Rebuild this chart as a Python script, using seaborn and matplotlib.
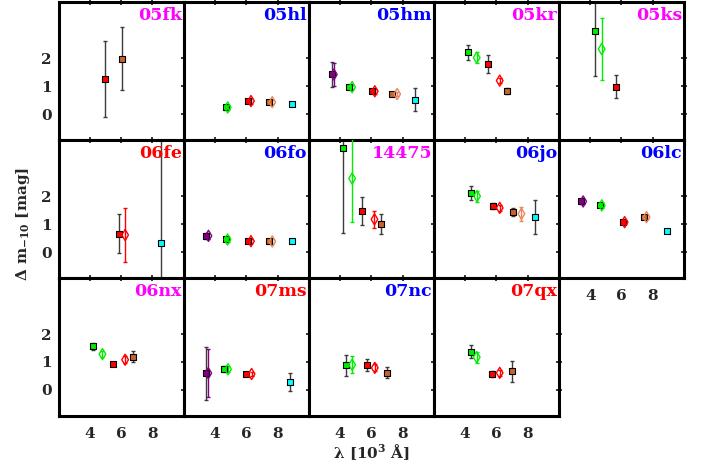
import numpy as np
import pandas as pd
import matplotlib
matplotlib.use("Agg")
import matplotlib.pyplot as plt
import seaborn as sns

# Supernovae shown, in panel order, with the colour of their name tag
sn_names = ["05fk", "05hl", "05hm", "05kr", "05ks",
            "06fe", "06fo", "14475", "06jo", "06lc",
            "06nx", "07ms", "07nc", "07qx"]
name_colors = ["#ff00ff", "#0000ff", "#0000ff", "#ff00ff", "#ff00ff",
               "#ff0000", "#0000ff", "#ff00ff", "#0000ff", "#0000ff",
               "#ff00ff", "#ff0000", "#0000ff", "#ff0000"]

# Long-format photometry: supernova, band, wavelength [10^3 A], delta m_-10, error
obs_sn = (["05fk"] * 2 + ["05hl"] * 7 + ["05hm"] * 9 + ["05kr"] * 5 + ["05ks"] * 3
          + ["06fe"] * 3 + ["06fo"] * 9 + ["14475"] * 5 + ["06jo"] * 7 + ["06lc"] * 9
          + ["06nx"] * 5 + ["07ms"] * 7 + ["07nc"] * 5 + ["07qx"] * 5)
obs_band = (["V", "R"]
            + ["B", "g", "V", "r", "R", "i", "I"]
            + ["U", "u", "B", "g", "V", "r", "R", "i", "I"]
            + ["B", "g", "V", "r", "R"]
            + ["B", "g", "V"]
            + ["V", "r", "I"]
            + ["U", "u", "B", "g", "V", "r", "R", "i", "I"]
            + ["B", "g", "V", "r", "R"]
            + ["B", "g", "V", "r", "R", "i", "I"]
            + ["U", "u", "B", "g", "V", "r", "R", "i", "I"]
            + ["B", "g", "V", "r", "R"]
            + ["U", "u", "B", "g", "V", "r", "I"]
            + ["B", "g", "V", "r", "R"]
            + ["B", "g", "V", "r", "R"])
obs_lam = ([4.97, 6.06]
           + [4.68, 4.81, 6.09, 6.30, 7.45, 7.66, 8.94]
           + [3.46, 3.60, 4.56, 4.77, 6.01, 6.22, 7.33, 7.65, 8.82]
           + [4.19, 4.74, 5.46, 6.21, 6.68]
           + [4.30, 4.73, 5.62]
           + [5.87, 6.25, 8.55]
           + [3.45, 3.58, 4.68, 4.80, 6.09, 6.30, 7.47, 7.66, 8.94]
           + [4.16, 4.77, 5.41, 6.20, 6.63]
           + [4.40, 4.76, 5.76, 6.21, 7.06, 7.60, 8.45]
           + [3.44, 3.55, 4.64, 4.74, 6.07, 6.20, 7.43, 7.60, 8.93]
           + [4.22, 4.80, 5.50, 6.25, 6.74]
           + [3.42, 3.57, 4.60, 4.83, 5.98, 6.34, 8.79]
           + [4.39, 4.77, 5.71, 6.22, 7.01]
           + [4.40, 4.74, 5.74, 6.21, 7.02])
obs_dm = ([1.27, 1.99]
          + [0.24, 0.24, 0.47, 0.47, 0.43, 0.43, 0.38]
          + [1.42, 1.42, 0.97, 0.97, 0.82, 0.82, 0.74, 0.72, 0.52]
          + [2.22, 2.02, 1.80, 1.20, 0.83]
          + [2.99, 2.33, 0.99]
          + [0.65, 0.61, 0.31]
          + [0.58, 0.58, 0.45, 0.45, 0.39, 0.39, 0.38, 0.38, 0.38]
          + [3.73, 2.63, 1.48, 1.17, 1.00]
          + [2.12, 2.00, 1.65, 1.58, 1.43, 1.37, 1.26]
          + [1.81, 1.81, 1.67, 1.67, 1.07, 1.07, 1.25, 1.25, 0.77]
          + [1.56, 1.28, 0.93, 1.08, 1.19]
          + [0.60, 0.60, 0.74, 0.74, 0.57, 0.57, 0.28]
          + [0.88, 0.90, 0.90, 0.79, 0.62]
          + [1.37, 1.17, 0.57, 0.61, 0.67])
obs_err = ([1.36, 1.12]
           + [0.08, 0.10, 0.07, 0.10, 0.06, 0.08, 0.05]
           + [0.45, 0.40, 0.07, 0.08, 0.06, 0.08, 0.06, 0.08, 0.41]
           + [0.27, 0.20, 0.33, 0.10, 0.10]
           + [1.62, 1.10, 0.40]
           + [0.70, 0.96, 4.00]
           + [0.12, 0.10, 0.07, 0.08, 0.06, 0.07, 0.06, 0.08, 0.05]
           + [3.03, 1.57, 0.50, 0.30, 0.37]
           + [0.26, 0.20, 0.10, 0.12, 0.15, 0.25, 0.61]
           + [0.10, 0.10, 0.07, 0.08, 0.07, 0.08, 0.06, 0.08, 0.05]
           + [0.13, 0.10, 0.05, 0.12, 0.20]
           + [0.95, 0.86, 0.10, 0.10, 0.07, 0.08, 0.33]
           + [0.37, 0.30, 0.22, 0.12, 0.21]
           + [0.23, 0.20, 0.10, 0.10, 0.37])

# Filled squares: Bessell bands; open diamonds: Sloan bands
square_bands = ["U", "B", "V", "R", "I"]
diamond_bands = ["u", "g", "r", "i"]
band_colors = {"U": "#800080", "u": "#800080",
               "B": "#00ee00", "g": "#00ee00",
               "V": "#ff0000", "r": "#ff0000",
               "R": "#c8642d", "i": "#e8875a",
               "I": "#00ffff"}

df = pd.DataFrame({"sn": obs_sn, "band": obs_band, "lam": obs_lam,
                   "dm": obs_dm, "err": obs_err})

sns.set_style("white")
plt.rcParams["font.family"] = ["DejaVu Serif"]
plt.rcParams["font.weight"] = "bold"
plt.rcParams["mathtext.fontset"] = "dejavuserif"

fig, axes = plt.subplots(3, 5, figsize=(7.07, 4.70), dpi=100)
fig.subplots_adjust(left=0.083, right=0.9675, top=0.995, bottom=0.115,
                    wspace=0, hspace=0)

n_rows, n_cols = 3, 5
for idx in range(n_rows * n_cols):
    r, c = divmod(idx, n_cols)
    ax = axes[r, c]
    if idx >= len(sn_names):
        ax.remove()
        continue
    name = sn_names[idx]
    sub = df[df["sn"] == name]

    for band in square_bands + diamond_bands:
        pts = sub[sub["band"] == band]
        if pts.empty:
            continue
        col = band_colors[band]
        is_sq = band in square_bands
        ax.errorbar(pts["lam"], pts["dm"], yerr=pts["err"], fmt="none",
                    ecolor="#3c3c3c" if is_sq else col, elinewidth=1.0,
                    capsize=1.2, capthick=1.0, zorder=2 if is_sq else 3)
        if is_sq:
            sns.scatterplot(data=pts, x="lam", y="dm", marker="s", s=24,
                            color=col, edgecolor="black", linewidth=0.8,
                            ax=ax, zorder=4, legend=False)
        else:
            sns.scatterplot(data=pts, x="lam", y="dm", marker="d", s=32,
                            color=col, facecolor="none", edgecolor=col,
                            linewidth=1.0, ax=ax, zorder=5, legend=False)

    ax.set_xlim(2, 10)
    ax.set_ylim(-0.93, 4.0)
    ax.set_xticks([4, 6, 8])
    ax.set_yticks([0, 1, 2])
    ax.set_xlabel("")
    ax.set_ylabel("")
    below = idx + n_cols
    is_bottom = below >= len(sn_names)
    ax.tick_params(direction="inout", length=4, width=1.3, top=True,
                   right=True, labelsize=11, labelleft=(c == 0),
                   labelbottom=is_bottom, pad=3)
    ax.tick_params(axis="x", pad=6)
    for lab in ax.get_xticklabels() + ax.get_yticklabels():
        lab.set_fontweight("bold")
    for sp in ax.spines.values():
        sp.set_linewidth(2.2)
        sp.set_color("black")
    ax.text(0.985, 0.965, name, transform=ax.transAxes, ha="right", va="top",
            color=name_colors[idx], fontsize=12.5, fontweight="bold")

fig.text(0.032, 0.523, r"$\Delta$ m$_{\mathbf{-10}}$ [mag]", rotation=90,
         ha="center", va="center", fontsize=11, fontweight="bold")
fig.text(0.525, 0.038, r"λ [10$^{\mathbf{3}}$ Å]", ha="center", va="center",
         fontsize=11, fontweight="bold")

fig.savefig("out.png", dpi=100)
